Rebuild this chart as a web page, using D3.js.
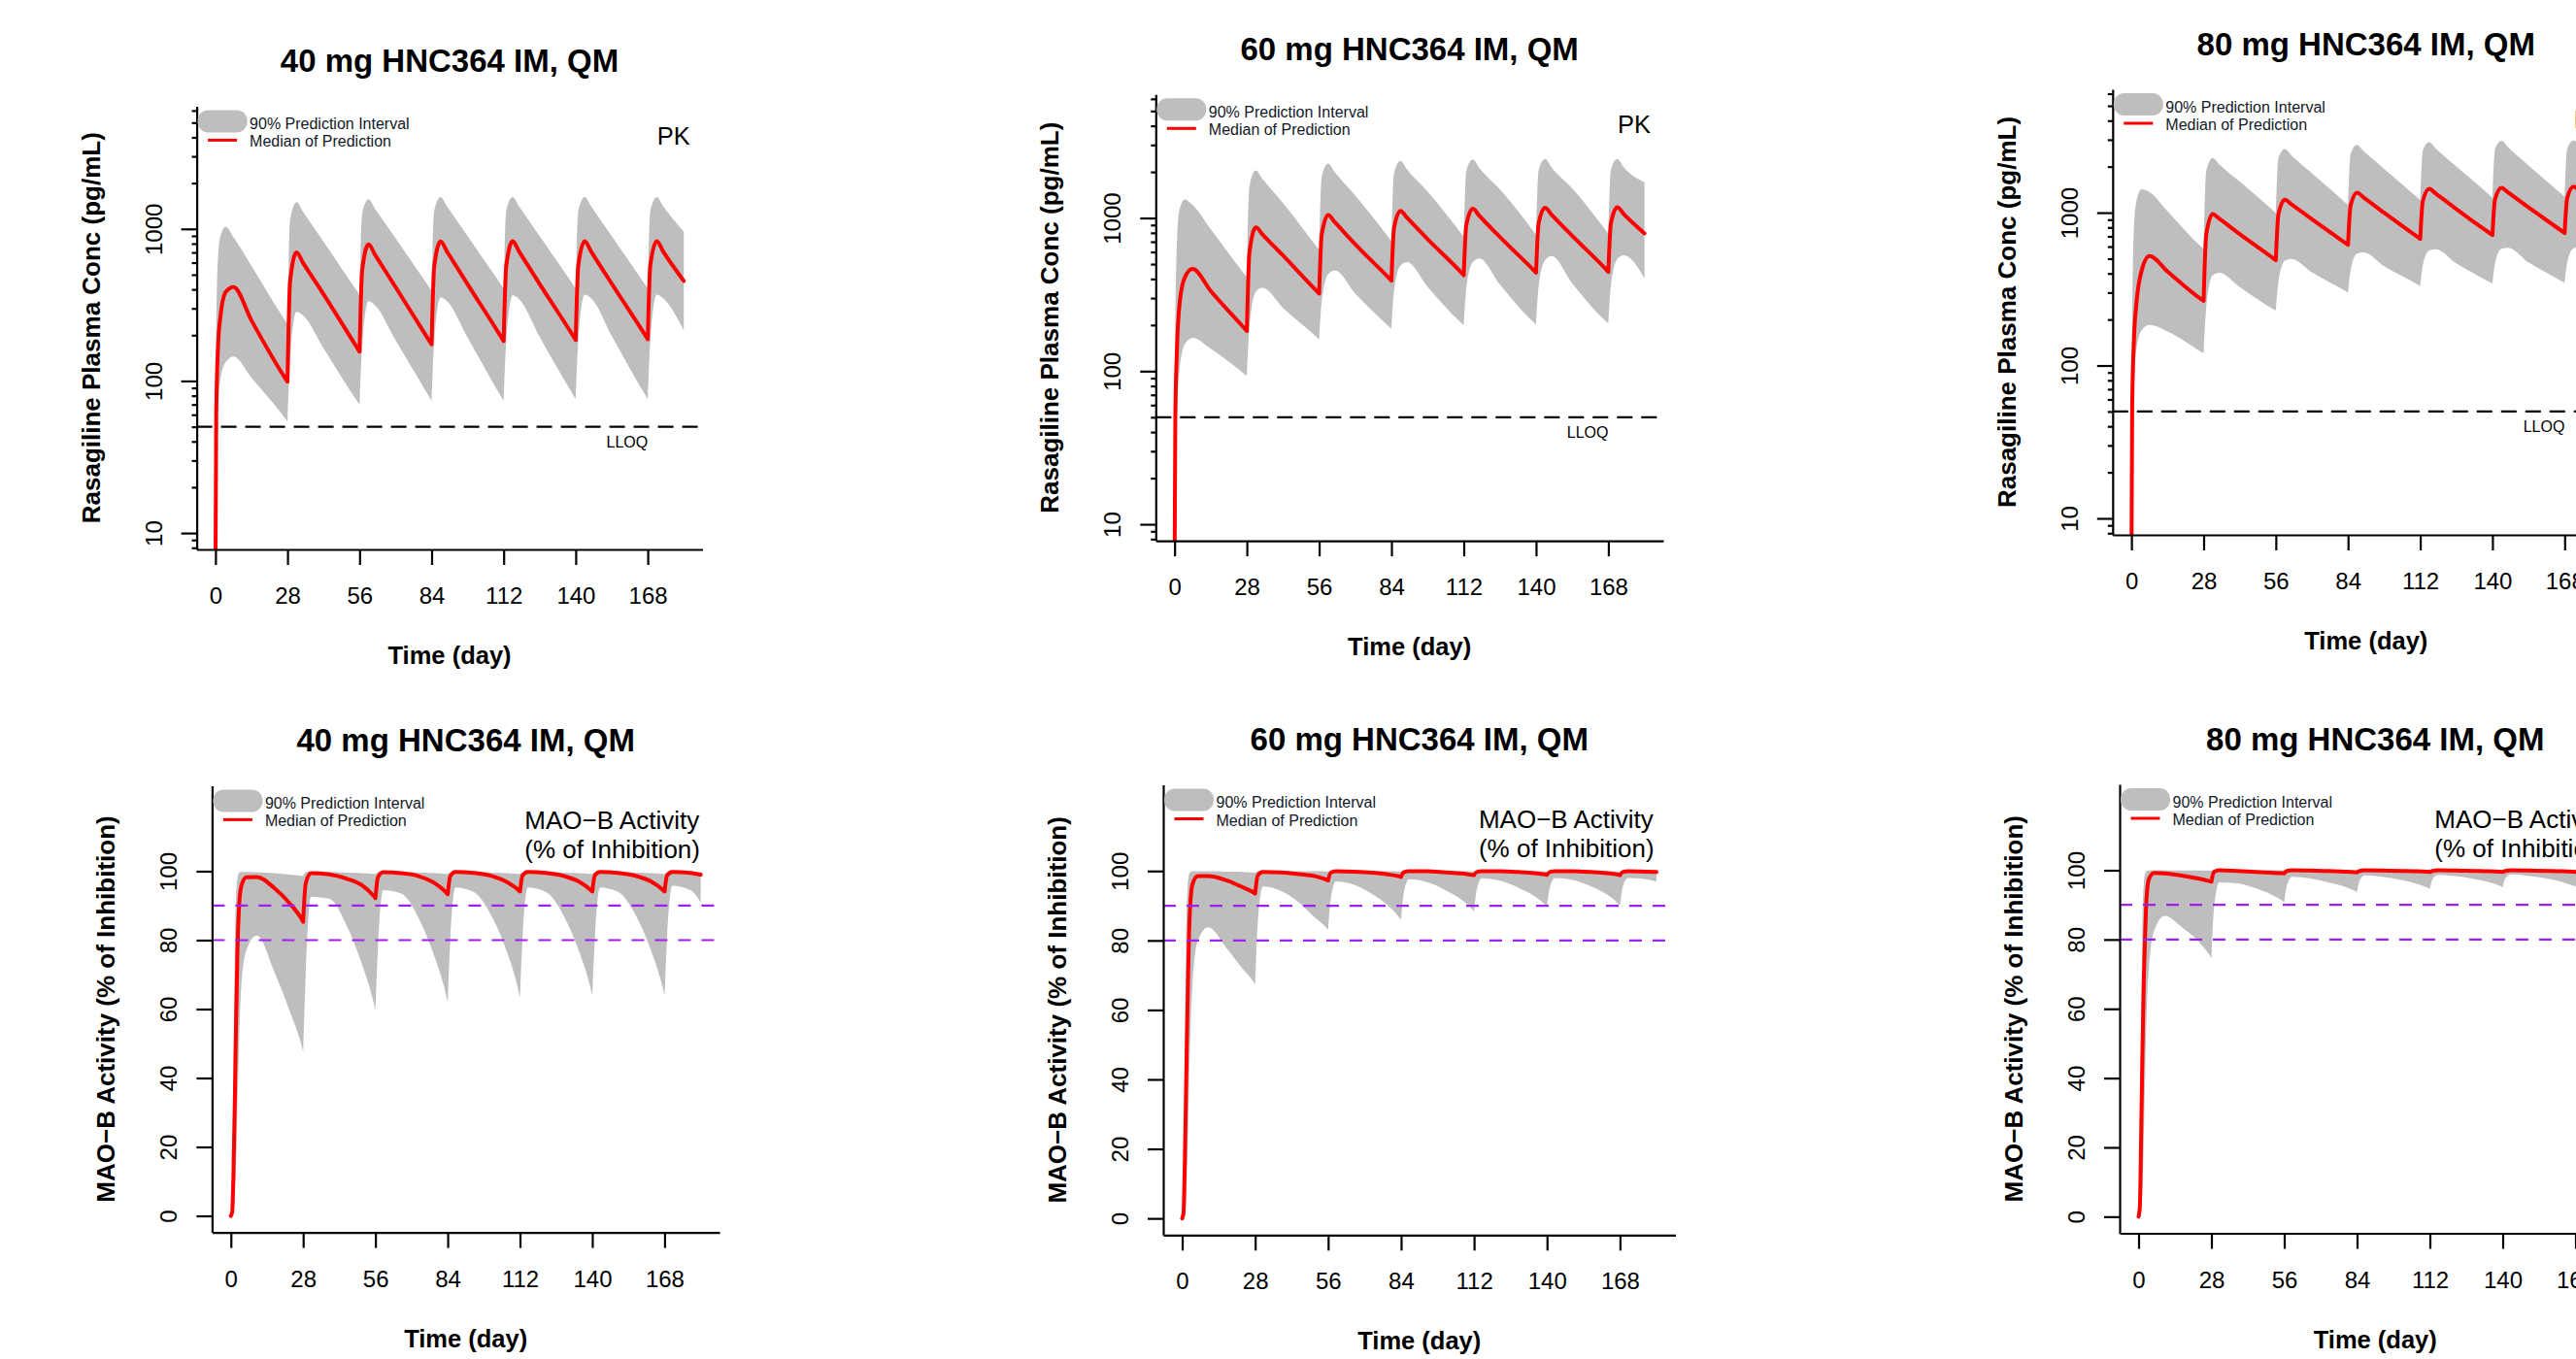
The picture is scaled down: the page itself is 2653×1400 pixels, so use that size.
<!DOCTYPE html>
<html>
<head>
<meta charset="utf-8">
<script src="https://cdn.jsdelivr.net/npm/d3@7/dist/d3.min.js"></script>
<style>
  html, body { margin: 0; padding: 0; background: #fff; overflow: hidden; }
  svg { display: block; font-family: "Liberation Sans", Arial, sans-serif; }
</style>
</head>
<body>
<svg id="chart" width="2653" height="1400"></svg>
<script>
'use strict';

/* ── Data ── */
const doseLabels = ['40 mg', '60 mg', '80 mg'];
const doseDays = [28, 56, 84, 112, 140, 168];
const xTicks = [0, 28, 56, 84, 112, 140, 168];
const pkTicks = [10, 100, 1000];
const pkMinorTicks = [8, 9, 20, 30, 40, 50, 60, 70, 80, 90, 200, 300, 400, 500, 600, 700, 800, 900, 2000, 3000, 4000, 5000, 6000];
const maoTicks = [0, 20, 40, 60, 80, 100];
const lloq = 50;
const maoTargets = [90, 80];

const pkDays = [0, 0.3, 1, 2, 4, 7, 14, 27,
  28, 29, 31.5, 34, 42, 55,
  56, 57, 59.5, 62, 70, 83,
  84, 85, 87.5, 90, 98, 111,
  112, 113, 115.5, 118, 126, 139,
  140, 141, 143.5, 146, 154, 167,
  168, 169, 171.5, 174, 182];

const pk40Median = [5, 60, 168, 270, 385, 415, 250, 105,
  99, 450, 700, 600, 372, 166,
  156, 530, 791, 677, 414, 185,
  174, 561, 828, 709, 432, 195,
  183, 569, 830, 710, 434, 198,
  186, 572, 830, 710, 436, 200,
  188, 575, 830, 710, 455];
const pk40Upper = [5, 200, 650, 900, 1030, 883, 570, 251,
  237, 1138, 1500, 1300, 824, 391,
  370, 1262, 1567, 1360, 867, 416,
  393, 1312, 1620, 1406, 895, 430,
  406, 1318, 1620, 1406, 895, 430,
  406, 1318, 1620, 1406, 895, 430,
  406, 1318, 1620, 1406, 960];
const pk40Lower = [5, 15, 60, 105, 133, 145, 105, 57,
  54, 137, 285, 270, 164, 74,
  70, 168, 335, 315, 185, 79,
  74, 179, 355, 335, 193, 79,
  74, 181, 365, 345, 195, 81,
  76, 184, 370, 350, 198, 81,
  76, 184, 370, 350, 215];

const pk60Median = [5, 50, 150, 280, 410, 465, 334, 191,
  183, 593, 870, 784, 569, 334,
  321, 779, 1045, 942, 673, 406,
  390, 859, 1115, 1005, 728, 441,
  423, 899, 1150, 1036, 751, 458,
  440, 918, 1168, 1052, 765, 464,
  445, 925, 1175, 1059, 794];
const pk60Upper = [5, 200, 750, 1150, 1320, 1216, 847, 431,
  410, 1618, 2050, 1806, 1250, 650,
  618, 1871, 2270, 2000, 1400, 743,
  706, 1972, 2360, 2079, 1490, 792,
  753, 2028, 2410, 2123, 1540, 820,
  779, 2051, 2430, 2141, 1560, 830,
  789, 2060, 2430, 2141, 1715];
const pk60Lower = [5, 15, 55, 105, 150, 165, 140, 96,
  93, 194, 330, 350, 259, 167,
  161, 287, 430, 455, 321, 196,
  189, 332, 490, 515, 355, 207,
  200, 350, 515, 545, 368, 209,
  202, 358, 530, 565, 375, 212,
  205, 362, 540, 570, 404];

const pk80Median = [5, 55, 150, 260, 420, 520, 412, 272,
  265, 714, 980, 914, 725, 503,
  489, 972, 1215, 1134, 906, 633,
  616, 1112, 1350, 1260, 998, 692,
  673, 1188, 1430, 1334, 1055, 733,
  713, 1219, 1455, 1358, 1081, 756,
  735, 1247, 1480, 1381, 1101];
const pk80Upper = [5, 200, 800, 1200, 1420, 1361, 1023, 600,
  580, 1862, 2280, 2075, 1597, 1030,
  995, 2270, 2610, 2375, 1811, 1164,
  1125, 2432, 2780, 2530, 1936, 1252,
  1210, 2541, 2890, 2630, 2004, 1297,
  1253, 2594, 2950, 2685, 2037, 1315,
  1271, 2626, 2980, 2712, 2100];
const pk80Lower = [5, 20, 70, 130, 170, 184, 167, 123,
  120, 237, 390, 405, 326, 234,
  229, 352, 485, 498, 407, 307,
  300, 420, 540, 550, 446, 338,
  330, 451, 565, 577, 466, 350,
  342, 464, 580, 590, 473, 355,
  347, 470, 585, 595, 480];

const maoDays = [0, 0.5, 1, 1.5, 2, 2.5, 3, 4, 6, 10, 17, 23, 27,
  28, 29, 31, 38, 45, 51, 55,
  56, 57, 59, 66, 73, 79, 83,
  84, 85, 87, 94, 101, 107, 111,
  112, 113, 115, 122, 129, 135, 139,
  140, 141, 143, 150, 157, 163, 167,
  168, 169, 171, 178, 182];

const mao40Median = [0, 1, 12, 32, 55, 75, 87, 95.5, 98.2, 98.3, 95, 90.5, 86.6,
  85.3, 96.5, 99.4, 99.1, 97.8, 95.8, 93.1,
  92.2, 98.3, 99.7, 99.4, 98.5, 96.5, 94.1,
  93.3, 98.6, 99.8, 99.5, 98.6, 96.8, 94.8,
  94.1, 98.8, 99.8, 99.5, 98.6, 96.9, 94.8,
  94.1, 98.8, 99.8, 99.5, 98.6, 96.9, 94.8,
  94.1, 98.8, 99.8, 99.5, 99.0];
const mao40Upper = [0, 3, 40, 75, 92, 97.5, 99.3, 99.8, 99.8, 99.7, 99.4, 99.0, 98.7,
  98.6, 99.7, 99.9, 99.8, 99.6, 99.4, 99.25,
  99.2, 99.7, 99.9, 99.8, 99.6, 99.4, 99.25,
  99.2, 99.7, 99.9, 99.8, 99.6, 99.4, 99.25,
  99.2, 99.7, 99.9, 99.8, 99.6, 99.4, 99.25,
  99.2, 99.7, 99.9, 99.8, 99.6, 99.4, 99.25,
  99.2, 99.7, 99.9, 99.8, 99.6];
const mao40Lower = [0, 0, 1, 5, 15, 30, 45, 66, 77, 81.3, 70.5, 59, 50.5,
  47.7, 70, 92.5, 92, 84, 72.5, 62.8,
  59.6, 78, 94.5, 93.5, 86, 75, 65.3,
  62, 80, 95.3, 94, 87, 76.5, 66.7,
  63.4, 80.5, 95.3, 94, 87, 76.5, 67.1,
  63.9, 80.5, 95.3, 94, 87, 76.5, 67.1,
  64, 81, 95.8, 94.5, 91];

const mao60Median = [0, 1.5, 16, 38, 60, 78, 89, 96.3, 98.5, 98.5, 97.3, 95.4, 94.0,
  93.5, 98.7, 99.7, 99.6, 99.1, 98.5, 97.6,
  97.3, 99.5, 99.9, 99.8, 99.5, 99.0, 98.5,
  98.3, 99.6, 99.9, 99.9, 99.6, 99.3, 98.9,
  98.8, 99.7, 99.9, 99.9, 99.7, 99.4, 99.0,
  98.9, 99.7, 99.9, 99.9, 99.7, 99.4, 99.0,
  98.8, 99.7, 99.9, 99.8, 99.7];
const mao60Upper = [0, 5, 45, 80, 94, 98.5, 99.6, 99.9, 99.9, 99.9, 99.8, 99.7, 99.6,
  99.5, 99.9, 100, 100, 99.9, 99.9, 99.85,
  99.8, 99.9, 100, 100, 99.9, 99.9, 99.85,
  99.8, 99.9, 100, 100, 99.9, 99.9, 99.85,
  99.8, 99.9, 100, 100, 99.9, 99.9, 99.85,
  99.8, 99.9, 100, 100, 99.9, 99.9, 99.85,
  99.8, 99.9, 100, 100, 99.9];
const mao60Lower = [0, 0, 1, 6, 18, 35, 50, 68, 80, 83.8, 77.8, 72, 68.5,
  67.3, 85, 95.5, 94.2, 90.8, 86.5, 83.9,
  83, 92, 97, 96, 93.3, 90, 86.9,
  85.9, 93.5, 97.6, 96.8, 94.5, 91.8, 89.2,
  88.3, 94.5, 97.9, 97.2, 95.2, 92.8, 90.5,
  89.7, 95, 98, 97.4, 95.5, 93.2, 90.8,
  90, 95.2, 98, 97.6, 96.9];

const mao80Median = [0, 3, 24, 48, 68, 81, 91, 97.5, 99.2, 99.1, 98.4, 97.6, 96.9,
  96.7, 99.5, 100, 99.8, 99.5, 99.3, 99.15,
  99.1, 99.8, 100, 99.9, 99.8, 99.6, 99.45,
  99.4, 99.8, 100, 99.9, 99.8, 99.7, 99.55,
  99.5, 99.8, 100, 99.9, 99.8, 99.7, 99.55,
  99.5, 99.8, 100, 99.9, 99.8, 99.7, 99.55,
  99.5, 99.8, 100, 99.9, 99.8];
const mao80Upper = [0, 8, 55, 85, 96, 99, 99.7, 99.9, 100, 100, 99.9, 99.9, 99.85,
  99.8, 100, 100, 100, 100, 100, 100,
  100, 100, 100, 100, 100, 100, 100,
  100, 100, 100, 100, 100, 100, 100,
  100, 100, 100, 100, 100, 100, 100,
  100, 100, 100, 100, 100, 100, 100,
  100, 100, 100, 100, 100];
const mao80Lower = [0, 0, 2, 8, 22, 40, 56, 72, 82.5, 86.8, 83.3, 79.5, 75.8,
  74.6, 89, 96.5, 96.2, 94.8, 93, 91.3,
  90.7, 95.5, 98.1, 97.6, 96.5, 95.3, 94.1,
  93.7, 97, 98.5, 98.1, 97.2, 96.1, 95.0,
  94.6, 97.4, 98.7, 98.3, 97.5, 96.5, 95.5,
  95.1, 97.6, 98.8, 98.4, 97.6, 96.6, 95.6,
  95.3, 97.7, 98.8, 98.3, 97.8];

/* ── Layout (plot regions, px) ── */
const frames = [
  { x: 202.6, y: 109.4, w: 520.9, h: 456.6 },
  { x: 1190.3, y: 97.3, w: 522.7, h: 459.8 },
  { x: 2175.8, y: 92, w: 522, h: 459 },
  { x: 218.4, y: 809.4, w: 522.6, h: 460.2 },
  { x: 1198, y: 808.5, w: 527.5, h: 463.8 },
  { x: 2183, y: 808, w: 526.5, h: 462.5 }
];

const panels = [
  { kind: 'pk', dose: 0, days: pkDays, median: pk40Median, lower: pk40Lower, upper: pk40Upper },
  { kind: 'pk', dose: 1, days: pkDays, median: pk60Median, lower: pk60Lower, upper: pk60Upper },
  { kind: 'pk', dose: 2, days: pkDays, median: pk80Median, lower: pk80Lower, upper: pk80Upper },
  { kind: 'mao', dose: 0, days: maoDays, median: mao40Median, lower: mao40Lower, upper: mao40Upper },
  { kind: 'mao', dose: 1, days: maoDays, median: mao60Median, lower: mao60Lower, upper: mao60Upper },
  { kind: 'mao', dose: 2, days: maoDays, median: mao80Median, lower: mao80Lower, upper: mao80Upper }
];

const GREY = '#bebebe', RED = '#ff0000', PURPLE = '#a020f0';
const FONT = '"Liberation Sans", Arial, sans-serif';

// R-style 4% axis expansion
const expand = (a, b) => { const d = (b - a) * 0.04; return [a - d, b + d]; };
const xDomain = expand(0, 182);
const pkDomain = expand(Math.log10(10), Math.log10(5000)).map(v => Math.pow(10, v));
const maoDomain = expand(0, 120);

const svg = d3.select('#chart');
svg.append('rect').attr('width', 2653).attr('height', 1400).attr('fill', '#fff');

/* split a series at each dose so the troughs stay sharp */
function cycles(rows) {
  const cuts = doseDays.map(d => rows.findIndex(r => r.t === d));
  const out = [];
  let start = 0;
  cuts.forEach(c => { out.push(rows.slice(start, c + 1)); start = c; });
  out.push(rows.slice(start));
  return out;
}

function drawPanel(p, f, idx) {
  const g = svg.append('g');
  const x = d3.scaleLinear().domain(xDomain).range([f.x, f.x + f.w]);
  const y = (p.kind === 'pk' ? d3.scaleLog().domain(pkDomain) : d3.scaleLinear().domain(maoDomain))
    .range([f.y + f.h, f.y]);

  const clipId = 'clip' + idx;
  g.append('clipPath').attr('id', clipId)
    .append('rect').attr('x', f.x).attr('y', f.y).attr('width', f.w).attr('height', f.h);

  const rows = p.days.map((t, i) => ({ t, lo: p.lower[i], mid: p.median[i], hi: p.upper[i] }));
  const parts = cycles(rows);
  const plot = g.append('g').attr('clip-path', `url(#${clipId})`);

  const band = d3.area().curve(d3.curveMonotoneX)
    .x(d => x(d.t)).y0(d => y(d.lo)).y1(d => y(d.hi));
  const med = d3.line().curve(d3.curveMonotoneX)
    .x(d => x(d.t)).y(d => y(d.mid));

  plot.append('path').attr('fill', GREY)
    .attr('d', parts.map(s => band(s)).join(''));
  plot.append('path')
    .attr('fill', 'none').attr('stroke', RED).attr('stroke-width', 4)
    .attr('stroke-linejoin', 'round').attr('stroke-linecap', 'round')
    .attr('d', parts.map(s => med(s)).join(''));

  // reference lines
  if (p.kind === 'pk') {
    g.append('line')
      .attr('x1', f.x).attr('x2', f.x + f.w).attr('y1', y(lloq)).attr('y2', y(lloq))
      .attr('stroke', '#000').attr('stroke-width', 2.2).attr('stroke-dasharray', '16 9');
    g.append('text').attr('x', x(160)).attr('y', y(40) + 6)
      .attr('text-anchor', 'middle').attr('font-size', 16).text('LLOQ');
    g.append('text').attr('x', x(171.6)).attr('y', f.y + 40)
      .attr('font-size', 25.5).text('PK');
  } else {
    maoTargets.forEach(v => {
      g.append('line')
        .attr('x1', f.x).attr('x2', f.x + f.w).attr('y1', y(v)).attr('y2', y(v))
        .attr('stroke', PURPLE).attr('stroke-width', 2.2).attr('stroke-dasharray', '13 11');
    });
    const t = g.append('text').attr('font-size', 26);
    t.append('tspan').attr('x', x(113.8)).attr('y', f.y + 44.6).text('MAO\u2212B Activity');
    t.append('tspan').attr('x', x(113.8)).attr('y', f.y + 74.6).text('(% of Inhibition)');
  }

  // x axis
  const xa = g.append('g').attr('transform', `translate(0,${f.y + f.h})`)
    .call(d3.axisBottom(x).tickValues(xTicks).tickSize(16).tickSizeOuter(0).tickFormat(d3.format('d')));
  xa.selectAll('path, line').attr('stroke-width', 2.2);
  xa.selectAll('text').attr('y', 56).attr('dy', null)
    .attr('font-size', 24).attr('font-family', FONT).attr('fill', '#000');

  // y axis
  const yAxis = d3.axisLeft(y).tickSize(16).tickSizeOuter(0)
    .tickValues(p.kind === 'pk' ? pkTicks : maoTicks).tickFormat(d3.format('d'));
  const ya = g.append('g').attr('transform', `translate(${f.x},0)`).call(yAxis);
  ya.selectAll('path, line').attr('stroke-width', 2.2);
  ya.selectAll('text')
    .attr('x', 0).attr('y', -36).attr('dy', null)
    .attr('transform', 'rotate(-90)').attr('text-anchor', 'middle')
    .attr('font-size', 24).attr('font-family', FONT).attr('fill', '#000');
  if (p.kind === 'pk') {
    const ym = g.append('g').attr('transform', `translate(${f.x},0)`)
      .call(d3.axisLeft(y).tickValues(pkMinorTicks).tickSize(5).tickFormat(''));
    ym.select('.domain').remove();
    ym.selectAll('line').attr('stroke-width', 2.2);
  }

  // titles and labels
  const cx = f.x + f.w / 2, cy = f.y + f.h / 2;
  g.append('text').attr('x', cx).attr('y', f.y - 35.5)
    .attr('text-anchor', 'middle').attr('font-size', 33).attr('font-weight', 'bold')
    .text(`${doseLabels[p.dose]} HNC364 IM, QM`);
  g.append('text').attr('x', cx).attr('y', f.y + f.h + 118)
    .attr('text-anchor', 'middle').attr('font-size', 25.5).attr('font-weight', 'bold')
    .text('Time (day)');
  g.append('text')
    .attr('transform', `translate(${f.x - 100},${cy}) rotate(-90)`)
    .attr('text-anchor', 'middle').attr('font-size', 26).attr('font-weight', 'bold')
    .text(p.kind === 'pk' ? 'Rasagiline Plasma Conc (pg/mL)' : 'MAO\u2212B Activity (% of Inhibition)');

  // legend
  g.append('rect').attr('x', f.x + 1).attr('y', f.y + 4).attr('width', 51).attr('height', 23)
    .attr('rx', 11).attr('fill', GREY);
  g.append('line').attr('x1', f.x + 11.5).attr('x2', f.x + 41.5)
    .attr('y1', f.y + 35).attr('y2', f.y + 35)
    .attr('stroke', RED).attr('stroke-width', 3);
  g.append('text').attr('x', f.x + 54.5).attr('y', f.y + 23.5).attr('font-size', 16)
    .attr('fill', '#111827').text('90% Prediction Interval');
  g.append('text').attr('x', f.x + 54.5).attr('y', f.y + 42).attr('font-size', 16)
    .attr('fill', '#111827').text('Median of Prediction');
}

panels.forEach((p, i) => drawPanel(p, frames[i], i));
</script>
</body>
</html>
